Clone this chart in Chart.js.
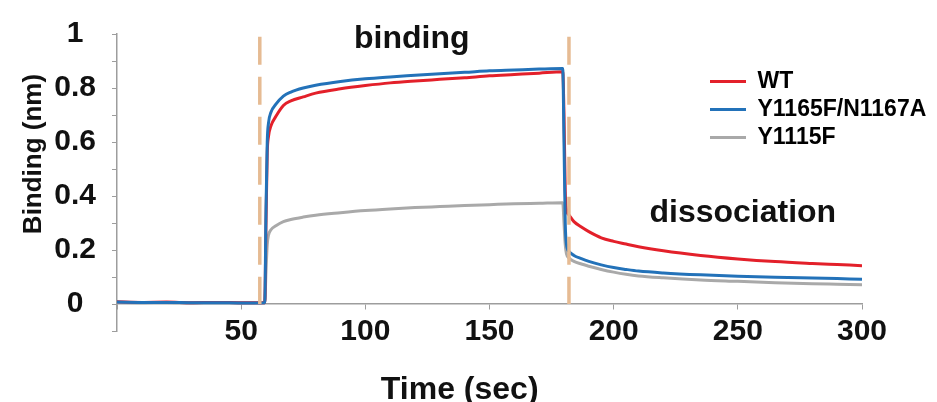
<!DOCTYPE html>
<html>
<head>
<meta charset="utf-8">
<script src="https://cdn.jsdelivr.net/npm/chart.js@4/dist/chart.umd.min.js"></script>
<style>
  html, body { margin: 0; padding: 0; background: #fff; }
  #wrap { width: 937px; height: 402px; position: relative; }
</style>
</head>
<body>
<div id="wrap"><canvas id="bindingChart"></canvas></div>
<script>
// time points (sec)
var timePoints = [0, 10, 20, 30, 40, 50, 59.5, 60, 60.5, 61, 62, 64, 67, 70, 75, 80, 90, 100, 110, 120, 130, 140, 150, 160, 170, 179.5,
                  180, 180.5, 181, 182, 184, 187, 190, 195, 200, 205, 210, 220, 235, 250, 265, 280, 290, 300];

// binding (nm) per construct
var wtValues = [0.008, 0.006, 0.007, 0.005, 0.006, 0.005, 0.005, 0.30, 0.56, 0.62, 0.66, 0.695, 0.735, 0.752, 0.767, 0.781, 0.797, 0.809, 0.819, 0.826, 0.832, 0.838, 0.845, 0.850, 0.855, 0.860,
                0.70, 0.42, 0.35, 0.33, 0.305, 0.285, 0.268, 0.245, 0.232, 0.222, 0.212, 0.197, 0.180, 0.167, 0.157, 0.150, 0.146, 0.142];
var mutValues = [0.007, 0.006, 0.006, 0.005, 0.005, 0.004, 0.005, 0.35, 0.60, 0.67, 0.71, 0.74, 0.77, 0.785, 0.80, 0.81, 0.824, 0.834, 0.841, 0.847, 0.853, 0.858, 0.864, 0.867, 0.870, 0.872,
                 0.60, 0.30, 0.22, 0.195, 0.18, 0.168, 0.158, 0.145, 0.135, 0.128, 0.122, 0.115, 0.108, 0.103, 0.099, 0.096, 0.094, 0.092];
var y1115fValues = [0.006, 0.005, 0.006, 0.004, 0.005, 0.004, 0.004, 0.12, 0.22, 0.255, 0.275, 0.29, 0.305, 0.313, 0.322, 0.329, 0.338, 0.346, 0.352, 0.357, 0.361, 0.365, 0.368, 0.371, 0.373, 0.375,
                    0.30, 0.22, 0.185, 0.17, 0.158, 0.148, 0.14, 0.128, 0.118, 0.11, 0.104, 0.097, 0.089, 0.084, 0.079, 0.075, 0.073, 0.071];

var seriesNames = ["WT", "Y1165F/N1167A", "Y1115F"];

// phase boundaries (sec) drawn as dashed markers
var phaseMarks = [57.5, 182];
var markTop = 0.99;

// axis ticks
var xMin = 0, xMax = 300, xStep = 50;
var yMin = -0.1, yMax = 1, yStep = 0.1;

// phase labels: [text, time, binding]
var phaseLabels = [["binding", 118.7, 0.949], ["dissociation", 252, 0.305]];

var FONT = "'Liberation Sans', Arial, Helvetica, sans-serif";
var AXIS_GREY = "#9d9d9d";

function toPoints(values) {
    return timePoints.map(function(t, i) { return {x: t, y: values[i]}; });
}

function curve(label, values, color, order) {
    return {
        label: label,
        data: toPoints(values),
        borderColor: color,
        backgroundColor: color,
        borderWidth: 3,
        pointRadius: 0,
        cubicInterpolationMode: "monotone",
        order: order
    };
}

var datasets = [
    curve(seriesNames[0], wtValues, "#e3202a", 2),
    curve(seriesNames[1], mutValues, "#2372b9", 1),
    curve(seriesNames[2], y1115fValues, "#a9a9a9", 3)
];

phaseMarks.forEach(function(t) {
    datasets.push({
        label: "",
        isMark: true,
        data: [{x: t, y: markTop}, {x: t, y: 0}],
        borderColor: "#e6bb93",
        borderWidth: 3.5,
        borderDash: [28, 12],
        pointRadius: 0,
        order: 0
    });
});

// put the legend where the figure has it and write the extra labels
var figureText = {
    id: "figureText",
    afterLayout: function(chart) {
        var lg = chart.legend;
        if (!lg) return;
        lg.left = 705;
        lg.top = 65;
        lg.right = lg.left + lg.width;
        lg.bottom = lg.top + lg.height;
    },
    afterDraw: function(chart) {
        var ctx = chart.ctx;
        var xs = chart.scales.x, ys = chart.scales.y;
        ctx.save();
        ctx.fillStyle = "#111";
        ctx.font = "bold 32px " + FONT;
        ctx.textAlign = "center";
        ctx.textBaseline = "alphabetic";
        phaseLabels.forEach(function(p) {
            ctx.fillText(p[0], xs.getPixelForValue(p[1]), ys.getPixelForValue(p[2]));
        });
        // axis titles
        ctx.fillText("Time (sec)", xs.getPixelForValue(138), 399);
        ctx.translate(41, 154);
        ctx.rotate(-Math.PI / 2);
        ctx.font = "bold 26px " + FONT;
        ctx.fillText("Binding (nm)", 0, 0);
        ctx.restore();
    }
};

Chart.defaults.font.family = FONT;
Chart.defaults.font.weight = "bold";
Chart.defaults.color = "#111";

new Chart(document.getElementById("bindingChart").getContext("2d"), {
    type: "line",
    data: { datasets: datasets },
    options: {
        responsive: true,
        maintainAspectRatio: false,
        animation: false,
        layout: { padding: { left: 0, right: 75, top: 30, bottom: 71 } },
        plugins: {
            tooltip: { enabled: false },
            legend: {
                position: "chartArea",
                align: "start",
                labels: {
                    boxWidth: 36,
                    boxHeight: 3,
                    padding: 5,
                    color: "#111",
                    font: { size: 23, weight: "bold" },
                    generateLabels: function(chart) {
                        return chart.data.datasets.map(function(ds, i) {
                            return {
                                text: ds.label,
                                fillStyle: ds.borderColor,
                                strokeStyle: ds.borderColor,
                                lineWidth: 0,
                                hidden: false,
                                datasetIndex: i,
                                isMark: ds.isMark
                            };
                        }).filter(function(item) { return !item.isMark; });
                    }
                }
            }
        },
        scales: {
            x: {
                type: "linear",
                min: xMin,
                max: xMax,
                position: { y: 0 },
                grid: { drawOnChartArea: false, drawTicks: true, tickLength: 5, color: AXIS_GREY },
                border: { color: AXIS_GREY, width: 1.5 },
                ticks: {
                    stepSize: xStep,
                    padding: 5,
                    maxRotation: 0,
                    font: { size: 30, weight: "bold" },
                    color: "#111",
                    callback: function(v) { return v === 0 ? "" : v; }
                }
            },
            y: {
                min: yMin,
                max: yMax,
                afterFit: function(scale) { scale.width = 117; },
                grid: { drawOnChartArea: false, drawTicks: true, tickLength: 5, color: AXIS_GREY },
                border: { color: AXIS_GREY, width: 1.5 },
                ticks: {
                    stepSize: yStep,
                    padding: 16,
                    crossAlign: "center",
                    font: { size: 30, weight: "bold" },
                    color: "#111",
                    autoSkip: false,
                    callback: function(v) {
                        var k = Math.round(v * 10);
                        return (k >= 0 && k % 2 === 0) ? String(k / 10) : "";
                    }
                }
            }
        }
    },
    plugins: [figureText]
});
</script>
</body>
</html>
